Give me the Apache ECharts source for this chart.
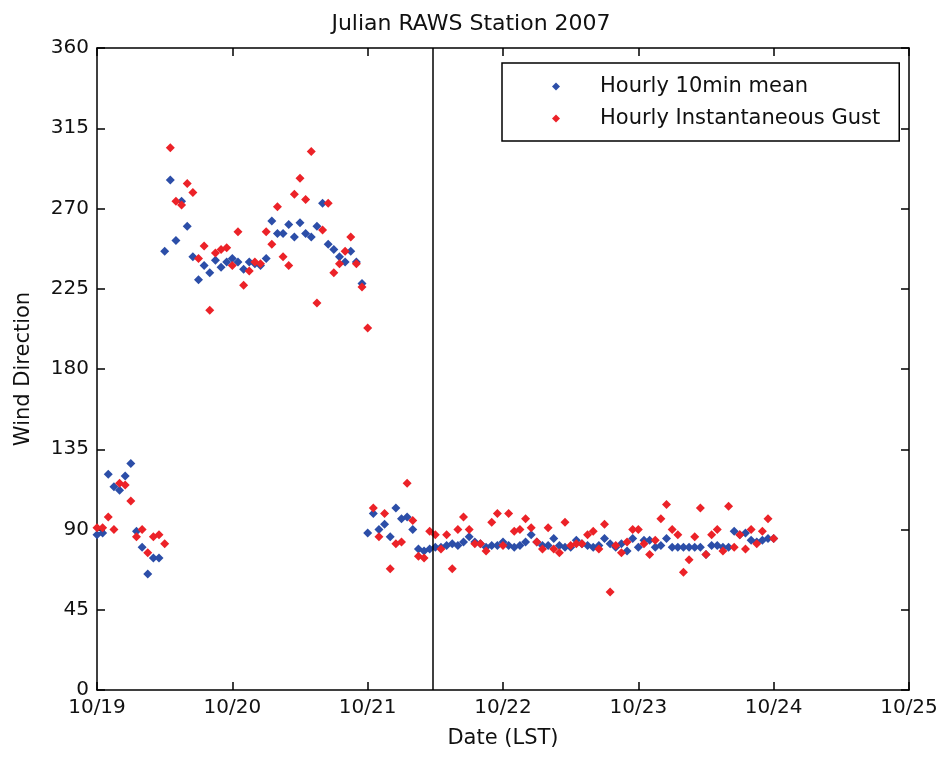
<!DOCTYPE html>
<html><head><meta charset="utf-8">
<script src="https://cdn.jsdelivr.net/npm/echarts@6/dist/echarts.min.js"></script>
<style>html,body{margin:0;padding:0;background:#fff}#c{width:942px;height:758px}</style>
</head><body><div id="c"></div>
<script>
const dateLabels = ['10/19','10/20','10/21','10/22','10/23','10/24','10/25'];
// hourly values starting 10/19 00:00 LST (index = hour)
const meanDir = [87,88,121,114,112,120,127,89,80,65,74,74,
  246,286,252,274,260,243,230,238,234,241,237,240,
  242,240,236,240,239,238,242,263,256,256,261,254,
  262,256,254,260,273,250,247,243,240,246,240,228,
  88,99,90,93,86,102,96,97,90,79,78,79,
  80,80,81,82,81,83,86,83,82,80,81,81,
  83,81,80,81,83,87,83,81,81,85,81,80,
  80,84,82,81,80,81,85,82,80,82,78,85,
  80,84,84,80,81,85,80,80,80,80,80,80,
  76,81,81,80,80,89,87,88,84,83,84,85,85];
const gustDir = [91,91,97,90,116,115,106,86,90,77,86,87,
  82,304,274,272,284,279,242,249,213,245,247,248,
  238,257,227,235,240,239,257,250,271,243,238,278,
  287,275,302,217,258,273,234,239,246,254,239,226,
  203,102,86,99,68,82,83,116,95,75,74,89,
  87,79,87,68,90,97,90,82,82,78,94,99,
  81,99,89,90,96,91,83,79,91,79,77,94,
  81,82,82,87,89,79,93,55,81,77,83,90,
  90,82,76,84,96,104,90,87,66,73,86,102,
  76,87,90,78,103,80,87,79,90,82,89,96,85];
const markerHour = 59.5;
const seriesNames = ['Hourly 10min mean','Hourly Instantaneous Gust'];

const FF = 'DejaVu Sans';
const TXT = '#111';
const axLine = {show:true, onZero:false, lineStyle:{color:'#000', width:1.5}};
const axTick = {show:true, inside:true, length:8, lineStyle:{color:'#000', width:1.5}};

const chart = echarts.init(document.getElementById('c'));
chart.setOption({
  animation:false,
  backgroundColor:'#fff',
  textStyle:{fontFamily:FF},
  title:{text:'Julian RAWS Station 2007', left:'center', top:8,
    textStyle:{fontFamily:FF, fontSize:22, fontWeight:'normal', color:TXT}},
  legend:{
    orient:'vertical', left:502, top:63,
    data:[{name:seriesNames[0], icon:'diamond'},{name:seriesNames[1], icon:'diamond'}],
    itemWidth:8, itemHeight:8, itemGap:11,
    padding:[13,19,12,50],
    borderColor:'#000', borderWidth:1.5, backgroundColor:'#fff',
    textStyle:{fontFamily:FF, fontSize:21, color:TXT, padding:[0,0,0,35]}
  },
  grid:{left:97, right:33, top:48, bottom:68},
  xAxis:[{
    type:'value', min:0, max:144, interval:24, position:'bottom',
    axisLine:axLine, axisTick:axTick, splitLine:{show:false},
    axisLabel:{formatter:v=>dateLabels[Math.round(v/24)], fontFamily:FF, fontSize:20, color:TXT, margin:8},
    name:'Date (LST)', nameLocation:'middle', nameGap:38,
    nameTextStyle:{fontFamily:FF, fontSize:21, color:TXT}
  },{
    type:'value', min:0, max:144, interval:24, position:'top',
    axisLine:axLine, axisTick:axTick, splitLine:{show:false}, axisLabel:{show:false}
  }],
  yAxis:[{
    type:'value', min:0, max:360, interval:45, position:'left',
    axisLine:axLine, axisTick:axTick, splitLine:{show:false},
    axisLabel:{fontFamily:FF, fontSize:20, color:TXT, margin:8},
    name:'Wind Direction', nameLocation:'middle', nameGap:63, nameRotate:90,
    nameTextStyle:{fontFamily:FF, fontSize:21, color:TXT}
  },{
    type:'value', min:0, max:360, interval:45, position:'right',
    axisLine:axLine, axisTick:axTick, splitLine:{show:false}, axisLabel:{show:false}
  }],
  series:[{
    name:seriesNames[0], type:'scatter', symbol:'diamond', symbolSize:9,
    itemStyle:{color:'#2c4ea8', opacity:1},
    data:meanDir.map((v,i)=>[i,v]),
    markLine:{silent:true, symbol:['none','none'], label:{show:false},
      lineStyle:{color:'#000', type:'solid', width:1.5},
      data:[{xAxis:markerHour}]}
  },{
    name:seriesNames[1], type:'scatter', symbol:'diamond', symbolSize:9,
    itemStyle:{color:'#ec2228', opacity:1},
    data:gustDir.map((v,i)=>[i,v])
  }]
});
</script>
</body></html>
